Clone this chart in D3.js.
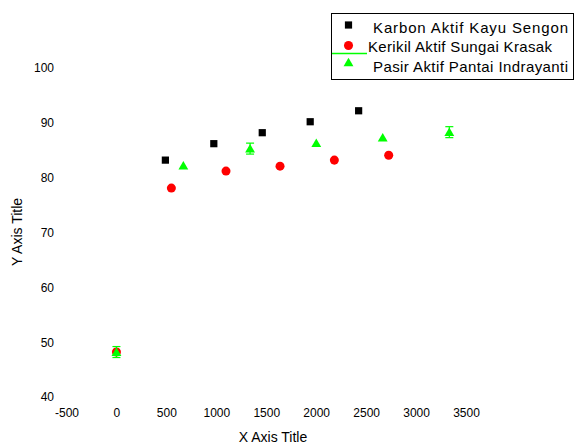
<!DOCTYPE html>
<html>
<head>
<meta charset="utf-8">
<script src="https://cdn.jsdelivr.net/npm/d3@7"></script>
<style>
  body { margin: 0; background: #fff; }
  text { font-family: "Liberation Sans", Arial, sans-serif; fill: #000; }
</style>
</head>
<body>
<div id="chart"></div>
<script>
// data
var karbonX = [490, 975, 1460, 1940, 2425];
var karbonY = [83.2, 86.2, 88.2, 90.2, 92.2];
var kerikilX = [0, 550, 1097, 1638, 2182, 2726];
var kerikilY = [48.2, 78.1, 81.2, 82.1, 83.2, 84.1];
var pasirX = [0, 670, 1338, 2001, 2666, 3333];
var pasirY = [48.2, 82.2, 85.3, 86.3, 87.3, 88.3];
var pasirErr = [1, 0, 1, 0, 0, 1];
var xTicks = [-500, 0, 500, 1000, 1500, 2000, 2500, 3000, 3500];
var yTicks = [40, 50, 60, 70, 80, 90, 100];
var seriesNames = ["Karbon Aktif Kayu Sengon", "Kerikil Aktif Sungai Krasak", "Pasir Aktif Pantai Indrayanti"];

var width = 576, height = 445;
var svg = d3.select("#chart").append("svg")
    .attr("width", width)
    .attr("height", height);

var x = d3.scaleLinear().domain([-500, 3500]).range([66.5, 466]);
var y = d3.scaleLinear().domain([40, 100]).range([397, 68]);

// axes: labels only, no lines
var xAxis = svg.append("g")
    .attr("transform", "translate(0,405)")
    .call(d3.axisBottom(x).tickValues(xTicks).tickSize(0).tickFormat(function(d) { return String(d); }));
xAxis.select(".domain").remove();
xAxis.selectAll("text").attr("font-size", 12).attr("dy", "0.71em")
    .style("font-family", "'Liberation Sans', Arial, sans-serif");

var yAxis = svg.append("g")
    .attr("transform", "translate(57,0)")
    .call(d3.axisLeft(y).tickValues(yTicks).tickSize(0));
yAxis.select(".domain").remove();
yAxis.selectAll("text").attr("font-size", 12)
    .style("font-family", "'Liberation Sans', Arial, sans-serif");

svg.append("text")
    .attr("x", 273).attr("y", 442)
    .attr("text-anchor", "middle")
    .attr("font-size", 14)
    .text("X Axis Title");
svg.append("text")
    .attr("transform", "translate(22,232) rotate(-90)")
    .attr("text-anchor", "middle")
    .attr("font-size", 14)
    .text("Y Axis Title");

var sq = d3.symbol().type(d3.symbolSquare).size(52);
var circ = d3.symbol().type(d3.symbolCircle).size(64);
var tri = d3.symbol().type(d3.symbolTriangle).size(42);

svg.append("g").selectAll("path")
    .data(d3.zip(karbonX, karbonY))
    .enter().append("path")
    .attr("d", sq)
    .attr("fill", "#000")
    .attr("transform", function(d) { return "translate(" + x(d[0]) + "," + y(d[1]) + ")"; });

svg.append("g").selectAll("path")
    .data(d3.zip(kerikilX, kerikilY))
    .enter().append("path")
    .attr("d", circ)
    .attr("fill", "#ff0000")
    .attr("transform", function(d) { return "translate(" + x(d[0]) + "," + y(d[1]) + ")"; });

var pasir = d3.zip(pasirX, pasirY, pasirErr);
var err = svg.append("g").attr("stroke", "#00ff00").attr("stroke-width", 1.2);
pasir.filter(function(d) { return d[2] > 0; }).forEach(function(d) {
    var cx = x(d[0]);
    err.append("line").attr("x1", cx).attr("x2", cx)
        .attr("y1", y(d[1] + d[2])).attr("y2", y(d[1] - d[2]));
    err.append("line").attr("x1", cx - 4).attr("x2", cx + 4)
        .attr("y1", y(d[1] + d[2])).attr("y2", y(d[1] + d[2]));
    err.append("line").attr("x1", cx - 4).attr("x2", cx + 4)
        .attr("y1", y(d[1] - d[2])).attr("y2", y(d[1] - d[2]));
});
svg.append("g").selectAll("path")
    .data(pasir)
    .enter().append("path")
    .attr("d", tri)
    .attr("fill", "#00ff00")
    .attr("transform", function(d) { return "translate(" + x(d[0]) + "," + (y(d[1]) + 1) + ")"; });

// legend
var lg = svg.append("g");
lg.append("rect")
    .attr("x", 331.5).attr("y", 13.5)
    .attr("width", 242).attr("height", 66)
    .attr("fill", "#fff").attr("stroke", "#000");
lg.append("line")
    .attr("x1", 332).attr("x2", 367).attr("y1", 53.5).attr("y2", 53.5)
    .attr("stroke", "#00ff00").attr("stroke-width", 1.5);
var lgSyms = [sq, circ, tri];
var lgCols = ["#000", "#ff0000", "#00ff00"];
var lgTextX = [373, 368, 373];
var lgTextW = [195, 184, 195];
var lgSymY = [25, 45.5, 63.5];
seriesNames.forEach(function(name, i) {
    lg.append("path").attr("d", lgSyms[i]).attr("fill", lgCols[i])
        .attr("transform", "translate(348.5," + lgSymY[i] + ")");
    lg.append("text")
        .attr("x", lgTextX[i]).attr("y", 32.7 + i * 19.7)
        .attr("font-size", 15)
        .attr("textLength", lgTextW[i])
        .attr("lengthAdjust", "spacing")
        .text(name);
});
</script>
</body>
</html>
